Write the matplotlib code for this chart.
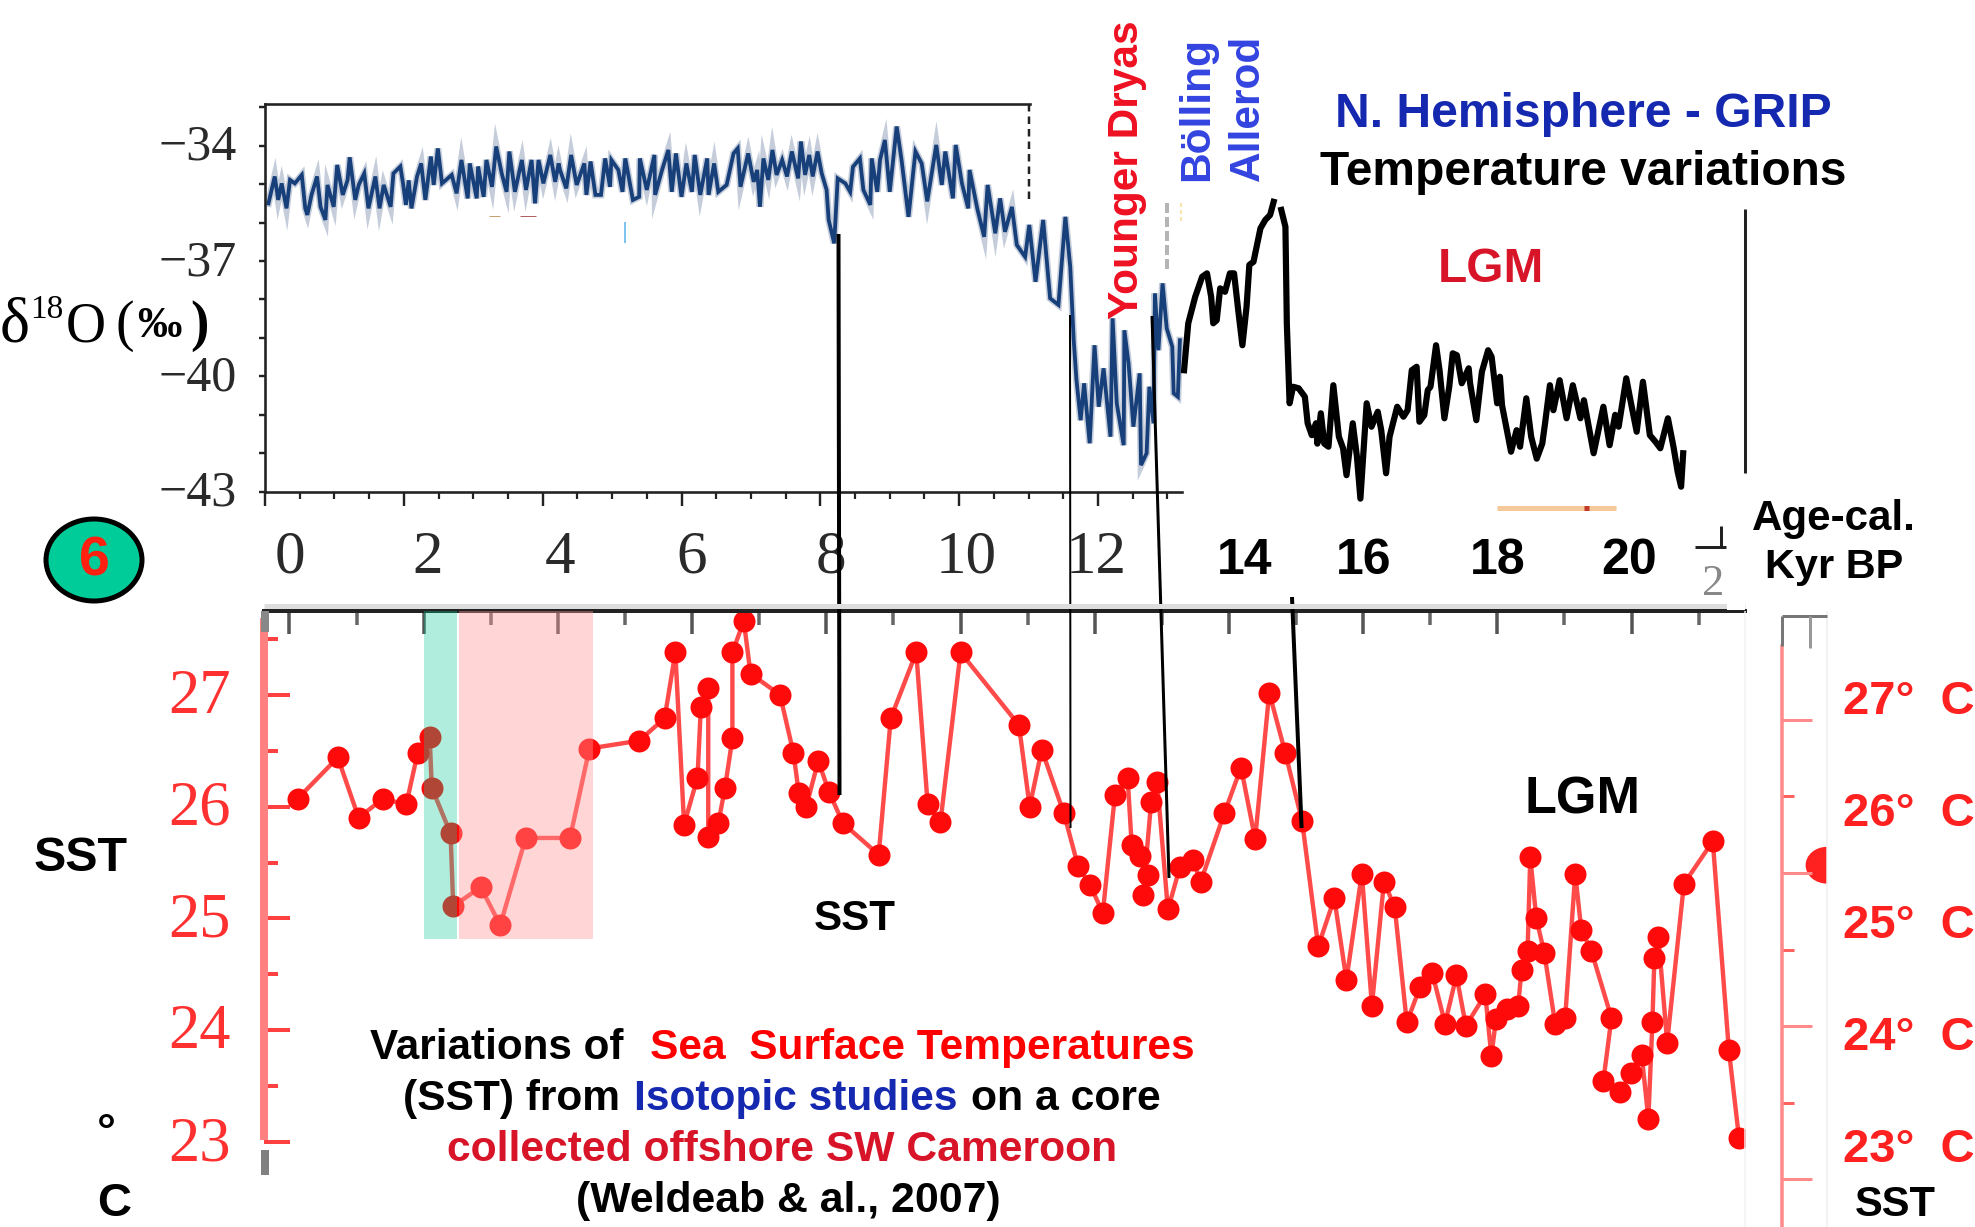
import matplotlib
matplotlib.use('Agg')
import matplotlib.pyplot as plt
from matplotlib.patches import Ellipse, Rectangle
from matplotlib.ticker import MultipleLocator, NullFormatter
from matplotlib.transforms import blended_transform_factory, ScaledTranslation
import numpy as np

W, H = 1975, 1227
PT = 0.72   # one pixel in points at dpi 100

grip_age = [0.05,0.10,0.14,0.19,0.24,0.31,0.36,0.43,0.53,0.58,0.61,0.67,0.75,0.80,0.87,0.90,0.99,1.04,1.12,1.19,
            1.22,1.30,1.35,1.43,1.49,1.59,1.65,1.71,1.81,1.85,1.95,1.99,2.03,2.07,2.11,2.19,2.25,2.31,2.39,2.43,
            2.49,2.55,2.69,2.76,2.83,2.92,2.95,3.05,3.07,3.15,3.19,3.27,3.33,3.41,3.48,3.52,3.60,3.70,3.76,3.84,
            3.89,3.94,4.01,4.11,4.18,4.23,4.25,4.34,4.41,4.49,4.60,4.63,4.69,4.76,4.84,4.90,4.97,4.99,5.09,5.15,
            5.19,5.30,5.39,5.40,5.50,5.61,5.62,5.72,5.81,5.86,5.92,6.00,6.07,6.15,6.19,6.27,6.37,6.39,6.47,6.53,
            6.65,6.75,6.81,6.85,6.96,7.04,7.09,7.13,7.18,7.25,7.31,7.37,7.45,7.52,7.59,7.68,7.72,7.78,7.84,7.89,
            7.96,8.02,8.09,8.12,8.20,8.25,8.36,8.43,8.47,8.57,8.62,8.72,8.74,8.82,8.86,8.93,9.00,9.10,9.17,9.27,
            9.37,9.46,9.54,9.67,9.75,9.80,9.91,9.95,10.04,10.13,10.15,10.26,10.36,10.41,10.52,10.59,10.66,10.76,
            10.83,10.95,11.01,11.10,11.21,11.31,11.43,11.53,11.60,11.65,11.69,11.75,11.80,11.88,11.95,12.01,12.08,
            12.18,12.21,12.27,12.37,12.38,12.44,12.51,12.60,12.62,12.70,12.74,12.80,12.82,12.87,12.93,12.99,13.07,
            13.09,13.15,13.18]
grip_d18o = [-35.50,-35.11,-34.80,-35.41,-34.98,-35.63,-34.89,-34.98,-34.76,-35.63,-35.80,-35.28,-34.80,-35.59,-35.93,-35.02,-35.59,-34.50,-35.28,-34.89,
             -34.30,-35.41,-35.02,-34.72,-35.63,-34.80,-35.63,-35.02,-35.59,-34.72,-34.54,-35.00,-35.54,-34.90,-35.63,-34.80,-34.46,-35.41,-34.28,-35.02,
             -34.07,-34.98,-34.76,-35.24,-34.37,-35.37,-34.46,-35.37,-34.54,-35.33,-34.37,-35.07,-34.02,-34.72,-35.20,-34.15,-35.20,-34.37,-35.15,-34.37,
             -35.50,-34.37,-34.98,-34.24,-34.94,-34.46,-34.63,-35.11,-34.24,-35.02,-34.46,-35.28,-34.41,-35.28,-35.28,-34.33,-35.07,-34.37,-34.63,-35.20,
             -34.33,-35.41,-35.33,-34.33,-35.15,-34.24,-35.28,-34.63,-34.11,-35.20,-34.20,-35.33,-34.46,-35.20,-34.24,-35.28,-34.33,-35.28,-34.46,-35.20,
             -35.02,-34.20,-34.07,-35.07,-34.20,-34.94,-34.63,-35.59,-34.33,-34.89,-34.11,-34.76,-34.37,-34.80,-34.15,-34.85,-33.89,-34.76,-34.24,-34.80,
             -34.15,-34.72,-35.15,-35.93,-36.54,-34.85,-34.98,-35.20,-34.55,-34.33,-35.15,-35.54,-34.33,-35.20,-34.37,-33.85,-35.20,-33.50,-34.37,-35.85,
             -34.15,-34.46,-35.45,-33.98,-35.02,-34.15,-35.37,-33.98,-34.98,-35.63,-34.63,-35.63,-36.37,-35.02,-36.28,-35.37,-36.24,-35.59,
             -36.58,-36.89,-36.06,-37.54,-35.93,-37.97,-38.14,-35.85,-37.15,-39.06,-40.10,-41.14,-40.18,-41.74,-39.19,-40.79,-39.79,
             -41.57,-38.49,-40.70,-41.79,-38.80,-39.66,-41.31,-39.92,-42.31,-42.00,-40.27,-41.22,-37.84,-39.32,-37.58,-38.75,-39.23,
             -40.44,-40.53,-39.06]

# GRIP d18O, black pasted part, same axis units
black_age = [13.24,13.30,13.40,13.50,13.57,13.63,13.66,13.71,13.76,13.83,13.90,13.96,14.02,14.08,14.14,14.18,14.24,14.34,14.41,14.48,14.53,
             np.nan,14.64,14.70,14.72,14.76,14.81,14.89,14.98,15.02,15.08,15.14,15.16,15.21,15.26,15.32,15.39,15.47,15.53,15.58,15.67,15.73,15.78,
             15.87,15.94,16.03,16.08,16.15,16.20,16.31,16.40,16.46,16.52,16.59,16.63,16.70,16.75,16.79,16.87,16.92,16.99,17.06,17.11,17.17,17.24,
             17.34,17.36,17.45,17.53,17.62,17.67,17.75,17.79,17.82,17.89,17.95,18.03,18.08,18.17,18.24,18.32,18.40,18.44,18.51,18.56,18.65,18.75,
             18.84,18.95,19.00,19.14,19.28,19.37,19.45,19.50,19.61,19.67,19.76,19.85,19.95,20.03,20.10,20.21,20.29,20.35,20.40,20.43]
black_d18o = [-39.84,-38.62,-37.93,-37.41,-37.32,-37.93,-38.62,-38.54,-37.71,-37.80,-37.32,-37.32,-38.28,-39.19,-38.19,-37.10,-37.02,-36.15,-35.93,-35.80,-35.46,
              np.nan,-35.67,-36.11,-38.62,-40.70,-40.27,-40.31,-40.53,-41.22,-41.53,-41.22,-41.75,-40.96,-41.75,-41.83,-40.23,-41.57,-41.87,-42.57,-41.22,-42.09,-43.18,
              -40.70,-41.31,-40.92,-41.40,-42.52,-41.57,-40.79,-41.05,-40.88,-39.84,-39.75,-41.18,-41.01,-40.36,-40.27,-39.19,-39.84,-41.09,-40.27,-39.40,-39.45,-40.18,
              -39.79,-40.18,-41.14,-39.88,-39.32,-39.49,-40.70,-40.01,-40.75,-41.40,-41.96,-41.40,-41.83,-40.57,-41.57,-42.14,-41.75,-41.22,-40.23,-40.88,-40.10,-41.09,
              -40.23,-41.09,-40.62,-42.00,-40.79,-41.79,-41.00,-41.31,-40.05,-40.62,-41.44,-40.14,-41.53,-41.70,-41.87,-41.09,-41.83,-42.48,-42.87,-42.00]

# Sea surface temperature, core offshore Cameroon
sst_age = [0.12,0.72,1.03,1.39,1.74,1.91,2.09,2.12,2.40,2.44,2.85,3.14,3.52,4.18,4.47,5.21,5.59,5.75,5.88,6.08,
           6.13,6.24,6.24,6.39,6.49,6.60,6.60,6.77,6.87,7.31,7.51,7.59,7.70,7.88,8.04,8.25,8.78,8.96,9.34,9.51,
           9.70,10.00,10.87,11.03,11.21,11.54,11.75,11.93,12.12,12.30,12.49,12.55,12.67,12.79,12.72,12.84,12.93,13.09,13.27,13.46,
           13.58,13.93,14.18,14.39,14.60,14.84,15.09,15.33,15.57,15.75,15.98,16.13,16.31,16.47,16.65,16.85,17.03,17.22,17.39,17.53,
           17.82,17.91,17.98,18.15,18.31,18.36,18.45,18.49,18.58,18.70,18.86,19.01,19.16,19.25,19.40,19.70,19.58,19.83,19.99,20.15,
           20.25,20.31,20.34,20.40,20.53,20.78,21.21,21.45,21.60]
sst_temp = [26.07,26.44,25.90,26.07,26.02,26.48,26.62,26.17,25.76,25.11,25.28,24.94,25.72,25.72,26.52,26.59,26.79,27.38,25.84,26.26,
            26.89,27.06,25.73,25.85,26.17,26.61,27.38,27.66,27.19,27.00,26.48,26.12,26.00,26.41,26.13,25.85,25.57,26.79,27.38,26.02,
            25.86,27.38,26.73,26.00,26.51,25.94,25.47,25.30,25.05,26.10,26.26,25.66,25.56,25.39,25.21,26.04,26.22,25.08,25.46,25.52,
            25.33,25.94,26.35,25.71,27.02,26.48,25.87,24.75,25.18,24.45,25.40,24.22,25.33,25.10,24.07,24.39,24.51,24.06,24.49,24.04,
            24.32,23.77,24.10,24.19,24.22,24.54,24.71,25.55,25.00,24.69,24.06,24.11,25.40,24.90,24.71,24.11,23.55,23.45,23.62,23.78,
            23.21,24.07,24.65,24.83,23.89,25.31,25.69,23.82,23.04]

# shaded periods (kyr)
green_span = [2.00, 2.50]
pink_span = [2.53, 4.52]
span_floor = 24.82

age_labels = ['0', '2', '4', '6', '8', '10', '12', '14', '16', '18', '20']
age_label_pos = [0, 2.06, 4.03, 6.0, 8.07, 10.08, 12.02, 14.24, 16.01, 18.0, 19.96]
d18o_ticks = [-34, -37, -40, -43]
sst_ticks = [23, 24, 25, 26, 27]

plt.rcParams['font.family'] = ['Liberation Sans', 'DejaVu Sans']

fig = plt.figure(figsize=(W / 100, H / 100), dpi=100)
renderer = fig.canvas.get_renderer()


def box(left, top, right, bottom):
    return [left / W, 1 - bottom / H, (right - left) / W, (bottom - top) / H]


def fit(t, width):
    # scale font so the text gets the measured length
    e = t.get_window_extent(renderer)
    t.set_fontsize(t.get_fontsize() * width / max(e.width, e.height))
    return t


def shift_up(labels, px):
    for lab in labels:
        lab.set_transform(lab.get_transform() + ScaledTranslation(0, px * PT / 72, fig.dpi_scale_trans))


# top panel
ax1 = fig.add_axes(box(265, 104, 1182, 491.7))
ax1.patch.set_visible(False)
ax1.set_xlim(0, 13.21)
ax1.set_ylim(-43, -32.915)
ax1.plot(grip_age, grip_d18o, color='#7f90b0', lw=7 * PT, alpha=0.45, solid_joinstyle='miter', clip_on=False)
ax1.plot(grip_age, grip_d18o, color='#173f7a', lw=3.8 * PT, solid_joinstyle='miter', clip_on=False)
ax1.plot(black_age, black_d18o, color='black', lw=6.2 * PT, clip_on=False)
ax1.spines['right'].set_visible(False)
for s in ['left', 'bottom', 'top']:
    ax1.spines[s].set_linewidth(2.6 * PT)
    ax1.spines[s].set_color('#222222')
ax1.spines['top'].set_bounds(0, 11.02)
ax1.set_xticks(range(0, 14, 2))
ax1.set_xticklabels([])
ax1.xaxis.set_minor_locator(MultipleLocator(0.5))
ax1.tick_params(axis='x', which='major', length=14 * PT, width=2.4 * PT, color='#222222', direction='out')
ax1.tick_params(axis='x', which='minor', length=7 * PT, width=2.2 * PT, color='#222222', direction='out')
ax1.set_yticks(d18o_ticks)
ax1.set_yticklabels(['\u2212' + str(abs(v)) for v in d18o_ticks], family='Liberation Serif', fontsize=36, color='#2a2a2a')
ax1.yaxis.set_minor_locator(MultipleLocator(1))
ax1.yaxis.set_minor_formatter(NullFormatter())
ax1.tick_params(axis='y', which='both', length=6 * PT, width=2.4 * PT, color='#222222', direction='out', pad=16)
shift_up(ax1.get_yticklabels(), 3.5)

# bottom panel
ax2 = fig.add_axes(box(264, 611, 1745, 1175))
ax2.patch.set_visible(False)
ax2.set_xlim(-0.38, 21.69)
ax2.set_ylim(22.705, 27.75)
ax2.plot(sst_age, sst_temp, color='#ff4a4a', lw=4.4 * PT, marker='o', ms=22 * PT,
         mfc='#ff0a0a', mec='#ff0a0a', mew=0)
ax2.add_patch(Rectangle((green_span[0], span_floor), green_span[1] - green_span[0], 27.75 - span_floor,
                        fc=(12 / 255, 200 / 255, 150 / 255), alpha=0.32, lw=0, zorder=5, clip_on=False))
ax2.add_patch(Rectangle((pink_span[0], span_floor), pink_span[1] - pink_span[0], 27.75 - span_floor,
                        fc=(1, 152 / 255, 152 / 255), alpha=0.4, lw=0, zorder=5, clip_on=False))
for s in ['right', 'bottom']:
    ax2.spines[s].set_visible(False)
ax2.spines['top'].set_linewidth(4 * PT)
ax2.spines['top'].set_color('#222222')
ax2.spines['left'].set_linewidth(8 * PT)
ax2.spines['left'].set_color('#ff8080')
ax2.spines['left'].set_bounds(23.05, 27.65)
ax2.set_xticks(range(0, 22, 2))
ax2.set_xticklabels([])
ax2.xaxis.set_minor_locator(MultipleLocator(1))
ax2.tick_params(axis='x', which='major', direction='in', length=23 * PT, width=3.5 * PT, color='#555555',
                top=True, bottom=False)
ax2.tick_params(axis='x', which='minor', direction='in', length=14 * PT, width=3.5 * PT, color='#666666',
                top=True, bottom=False)
ax2.set_yticks(sst_ticks)
ax2.set_yticklabels([str(v) for v in sst_ticks], family='Liberation Serif', fontsize=45, color='#ff3030')
ax2.yaxis.set_minor_locator(MultipleLocator(0.5))
ax2.yaxis.set_minor_formatter(NullFormatter())
ax2.tick_params(axis='y', which='major', direction='in', length=26 * PT, width=4 * PT, color='#ff4040', pad=24)
ax2.tick_params(axis='y', which='minor', direction='in', length=14 * PT, width=4 * PT, color='#ff4040')
shift_up(ax2.get_yticklabels(), 4)

trans = blended_transform_factory(ax2.transData, fig.transFigure)
for lab, pos in zip(age_labels, age_label_pos):
    if int(lab) <= 12:
        ax2.text(pos, 1 - 558 / H, lab, transform=trans, ha='center', va='center',
                 family='Liberation Serif', fontsize=44, color='#2a2a2a')
    else:
        ax2.text(pos, 1 - 561 / H, lab, transform=trans, ha='center', va='center',
                 fontweight='bold', fontsize=36, color='black')

# second red scale on the right, own spacing
ax3 = fig.add_axes(box(1782, 646, 1827, 1227))
ax3.patch.set_visible(False)
ax3.set_xlim(0, 1)
ax3.set_ylim(-0.31, 3.48)
for s in ['right', 'top', 'bottom']:
    ax3.spines[s].set_visible(False)
ax3.spines['left'].set_linewidth(3.5 * PT)
ax3.spines['left'].set_color('#ff8a8a')
ax3.set_xticks([])
ax3.set_yticks([0, 1, 2, 3])
ax3.set_yticklabels([])
ax3.yaxis.set_minor_locator(MultipleLocator(0.5))
ax3.tick_params(axis='y', which='major', direction='in', length=30 * PT, width=3 * PT, color='#ff8a8a')
ax3.tick_params(axis='y', which='minor', direction='in', length=12 * PT, width=3 * PT, color='#ff6060')
ax3.add_patch(Ellipse((1.0, 2.05), 0.95, 0.24, fc='#ff2020', lw=0))

# overlay in image pixels for the annotations of the slide
ov = fig.add_axes([0, 0, 1, 1], zorder=10)
ov.set_xlim(0, W)
ov.set_ylim(H, 0)
ov.axis('off')
ov.patch.set_visible(False)


def line(xs, ys, color='black', lw=3, **kw):
    ov.plot(xs, ys, color=color, lw=lw * PT, solid_capstyle='butt', **kw)


line([838.5, 839.5], [234, 795], lw=4)
line([1070, 1070.5], [315, 828], lw=2)
line([1152, 1169], [316, 878], lw=3)
line([1292, 1301.6], [597, 828], lw=4)
line([1745, 1745], [209, 473], color='#222222', lw=3)
line([1029, 1029], [104, 201], color='#222222', lw=2.5, linestyle=(0, (3, 2)))
line([1167, 1167], [203, 272], color='#b5b5b5', lw=4, linestyle=(0, (2.5, 1)))
line([1181, 1181], [203, 222], color='#fbe3b0', lw=2, linestyle=(0, (2, 1.5)))
line([264, 1745], [606, 606], color='#dddddd', lw=5)
line([1745, 1745], [611, 1227], color='#f2f2f2', lw=1.5)
line([1827, 1827], [611, 1227], color='#eeeeee', lw=1.5)
line([264.5, 264.5], [611, 632], color='#888888', lw=8)
line([264.5, 264.5], [1150, 1175], color='#808080', lw=8)
line([1782, 1827], [616, 616], color='#777777', lw=3)
line([1782, 1782], [616, 646], color='#777777', lw=3)
line([1810, 1810], [616, 648], color='#999999', lw=3)
line([1695, 1726], [547, 547], color='#222222', lw=3)
line([1721, 1721], [526, 547], color='#222222', lw=3)
line([1497, 1616], [508, 508], color='#f5c99a', lw=5)
line([1584, 1589], [508, 508], color='#c0392b', lw=5)
line([625, 625], [222, 243], color='#7fc4ee', lw=2)
line([489, 500], [216, 216], color='#c9a070', lw=1)
line([520, 536], [216, 216], color='#b06060', lw=1)

ov.add_patch(Ellipse((94, 560), 96, 82, fc='#00cc99', ec='black', lw=5 * PT))
ov.text(94, 561, '6', ha='center', va='center', fontweight='bold', fontsize=40, color='#ff2010')

ov.text(1702, 595, '21', family='Liberation Serif', fontsize=32, color='#888888', ha='left', va='baseline')
ov.add_patch(Rectangle((1727, 474), 18, 136, fc='white', lw=0, zorder=3))

BLUE = '#1428b0'
DRED = '#d81428'
# text, left x, baseline y, width, colour
labels = [
    ('Variations of', 370, 1059, 254, 'black'),
    ('Sea  Surface Temperatures', 650, 1059, 545, '#ff0000'),
    ('(SST) from', 403, 1110, 217, 'black'),
    ('Isotopic studies', 634, 1110, 324, BLUE),
    ('on a core', 971, 1110, 190, 'black'),
    ('collected offshore SW Cameroon', 447, 1161, 670, DRED),
    ('(Weldeab & al., 2007)', 576, 1212, 425, 'black'),
    ('N. Hemisphere - GRIP', 1335, 127, 496, BLUE),
    ('Temperature variations', 1320, 185, 526, 'black'),
    ('LGM', 1438, 282, 106, DRED),
    ('LGM', 1525, 813, 116, 'black'),
    ('SST', 34, 871, 94, 'black'),
    ('SST', 814, 930, 82, 'black'),
    ('SST', 1855, 1216, 81, 'black'),
    ('Age-cal.', 1752, 530, 164, 'black'),
    ('Kyr BP', 1765, 578, 138, 'black'),
]
for txt, x, y, w, col in labels:
    fit(ov.text(x, y, txt, ha='left', va='baseline', fontweight='bold', fontsize=30, color=col), w)

# rotated period names
for txt, x, y, w, col in [('Younger Dryas', 1138, 319, 298, '#ee1122'),
                          ('Bölling', 1208, 181, 144, '#3344e0'),
                          ('Allerod', 1259, 181, 146, '#3344e0')]:
    fit(ov.text(x, y, txt, rotation=90, rotation_mode='anchor', ha='left', va='baseline',
                fontweight='bold', fontsize=30, color=col), w)

ov.text(106, 1134, '°', ha='center', va='center', fontweight='bold', fontsize=34, color='black')
ov.text(97, 1216, 'C', ha='left', va='baseline', fontweight='bold', fontsize=34, color='black')

for lab, y in zip(['27', '26', '25', '24', '23'], [714, 826, 938, 1050, 1162]):
    ov.text(1843, y, lab + '°  C', ha='left', va='baseline', fontweight='bold', fontsize=34, color='#ff2020')

# delta label, pieces set by hand
SER = 'Liberation Serif'
ov.text(0, 342, 'δ', family=SER, fontsize=46, ha='left', va='baseline', color='black')
ov.text(30, 318, '18', family=SER, fontsize=24, ha='left', va='baseline', color='black')
ov.text(66, 342, 'O', family=SER, fontsize=40, ha='left', va='baseline', color='black')
ov.text(116, 340, '(', family=SER, fontsize=40, ha='left', va='baseline', color='black')
ov.text(137, 337, '‰', family=SER, fontsize=32, fontweight='bold', ha='left', va='baseline', color='black')
ov.text(190, 340, ')', family=SER, fontsize=40, fontweight='bold', ha='left', va='baseline', color='black')

fig.savefig('out.png', dpi=100)
